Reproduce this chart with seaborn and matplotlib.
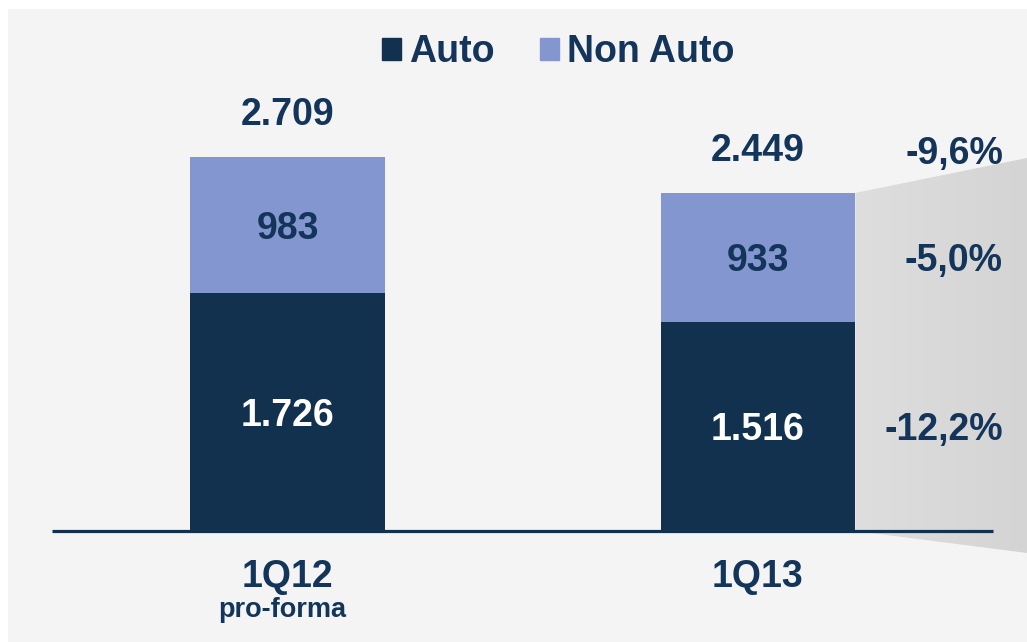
import matplotlib.pyplot as plt
import numpy as np
import seaborn as sns
from matplotlib.colors import LinearSegmentedColormap
from matplotlib.patches import Patch, Polygon, Rectangle

periods = ['1Q12', '1Q13']
sublabels = ['pro-forma', '']
auto = [1726, 1516]
non_auto = [983, 933]
totals = [2709, 2449]
total_labels = ['2.709', '2.449']
auto_labels = ['1.726', '1.516']
non_auto_labels = ['983', '933']
# change 1Q13 vs 1Q12: total, non auto, auto
change_labels = ['-9,6%', '-5,0%', '-12,2%']

NAVY = '#11314f'
LILAC = '#8496cf'
TEXT = '#14355a'

sns.set_style('white')
plt.rcParams['font.family'] = ['Liberation Sans', 'DejaVu Sans']
plt.rcParams['font.weight'] = 'bold'

fig = plt.figure(figsize=(10.27, 6.42), dpi=100, facecolor='white')
# grey slide panel
fig.patches.append(Rectangle((8 / 1027, 0), 1, 633 / 642, transform=fig.transFigure,
                             facecolor='#f4f4f4', edgecolor='none', zorder=-10))
ax = fig.add_axes([0, 0, 1, 1])
ax.set_axis_off()

bar_w = 0.414
sns.barplot(x=periods, y=totals, color=LILAC, saturation=1, width=bar_w,
            linewidth=0, errorbar=None, ax=ax, zorder=3)
sns.barplot(x=periods, y=auto, color=NAVY, saturation=1, width=bar_w,
            linewidth=0, errorbar=None, ax=ax, zorder=4)

k = 374 / 2709  # px per unit
ylim = (-111 / k, 531 / k)
xlim = (-287.5 / 470.5, 739.5 / 470.5)

# grey wedge to the right of the 1Q13 bar
x0, x1 = 1 + bar_w / 2, xlim[1]
wedge = Polygon([(x0, totals[1]), (x1, 373 / k), (x1, -22 / k), (x0, 0)],
                closed=True, facecolor='none', edgecolor='none', transform=ax.transData)
ax.add_patch(wedge)
grad = LinearSegmentedColormap.from_list('wedge', ['#dedede', '#d4d4d4'])
im = ax.imshow(np.linspace(0, 1, 256).reshape(1, -1), extent=[x0, x1, -22 / k, 373 / k],
               cmap=grad, aspect='auto', zorder=1)
im.set_clip_path(wedge)

ax.hlines(0, -0.5, 1.5, color=NAVY, lw=2.3, zorder=5)

txt = dict(fontsize=27, color=TEXT, fontweight='bold', va='center_baseline')
for i in range(len(periods)):
    ax.annotate(total_labels[i], (i, totals[i]), xytext=(0, 33), textcoords='offset points',
                ha='center', **txt)
    ax.text(i, auto[i] + non_auto[i] / 2, non_auto_labels[i], ha='center', zorder=6, **txt)
    ax.text(i, auto[i] / 2, auto_labels[i], ha='center', zorder=6,
            **{**txt, 'color': 'white'})
    ax.annotate(periods[i], (i, 0), xytext=(0, -30), textcoords='offset points',
                ha='center', **txt)
    if sublabels[i]:
        ax.annotate(sublabels[i], (i, 0), xytext=(-4, -55), textcoords='offset points',
                    ha='center', **{**txt, 'fontsize': 19.5})

xr = (1003 - 287.5) / 470.5
ax.annotate(change_labels[0], (xr, totals[1]), xytext=(0, 31), textcoords='offset points',
            ha='right', **txt)
ax.text(xr, auto[1] + non_auto[1] / 2, change_labels[1], ha='right', zorder=6, **txt)
ax.text(xr, auto[1] / 2, change_labels[2], ha='right', zorder=6, **txt)

ax.set_xlim(*xlim)
ax.set_ylim(*ylim)

handles = [Patch(color=NAVY, label='Auto'), Patch(color=LILAC, label='Non Auto')]
fig.legend(handles=handles, loc='center', bbox_to_anchor=(558 / 1027, 1 - 52 / 642), ncol=2,
           frameon=False, prop={'size': 27, 'weight': 'bold'}, labelcolor=TEXT,
           handlelength=0.53, handleheight=0.53, handletextpad=0.2, columnspacing=1.2)

fig.savefig('out.png', dpi=100)
